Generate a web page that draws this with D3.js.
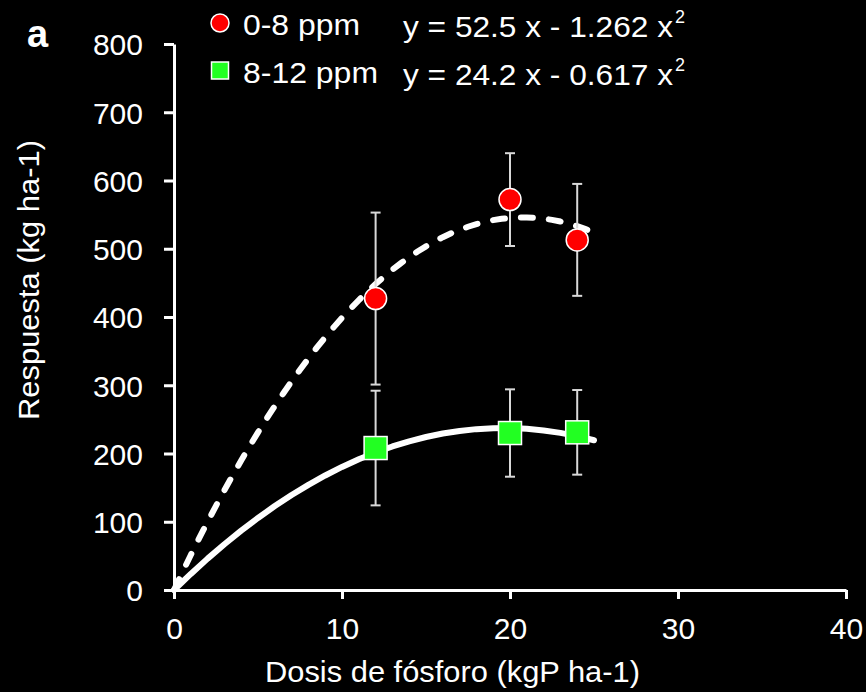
<!DOCTYPE html>
<html>
<head>
<meta charset="utf-8">
<script src="https://cdn.jsdelivr.net/npm/d3@7"></script>
<style>
  html, body { margin: 0; padding: 0; background: #000; }
  svg { display: block; }
  text { font-family: "Liberation Sans", Arial, sans-serif; fill: #fff; }
</style>
</head>
<body>
<svg id="chart" width="866" height="692"></svg>
<script>
// Phosphorus dose (kg P/ha) and yield response for two soil-P classes
const doses = [12, 20, 24];
const lowP = [427, 572, 513];        // 0-8 ppm
const lowPErr = [126, 68, 82];
const midP = [208, 230, 231];        // 8-12 ppm
const midPErr = [84, 64, 62];

// quadratic fits y = a x + b x^2 (through origin), drawn over 0..25
const lowPFit = [52.5, -1.262];
const midPFit = [24.2, -0.617];
const fitRange = [0, 25];

const xTicks = [0, 10, 20, 30, 40];
const yTicks = [0, 100, 200, 300, 400, 500, 600, 700, 800];

const svg = d3.select("#chart");
const x = d3.scaleLinear().domain([0, 40]).range([174, 846]);
const y = d3.scaleLinear().domain([0, 800]).range([590, 44]);

// axes
const yAxis = d3.axisLeft(y).tickValues(yTicks).tickSize(10).tickSizeOuter(0).tickPadding(21);
const xAxis = d3.axisBottom(x).tickValues(xTicks).tickSize(9).tickSizeOuter(0).tickPadding(19);

const gy = svg.append("g").attr("transform", `translate(${x(0)},0)`).call(yAxis);
const gx = svg.append("g").attr("transform", `translate(0,${y(0)})`).call(xAxis);
[gx, gy].forEach(g => {
  g.select(".domain").attr("stroke", "#fff").attr("stroke-width", 3);
  g.selectAll(".tick line").attr("stroke", "#fff").attr("stroke-width", 3);
  g.selectAll(".tick text")
    .attr("fill", "#fff")
    .style("font-family", '"Liberation Sans", Arial, sans-serif')
    .style("font-size", "30px");
});
gy.selectAll(".tick text").attr("dy", "0.36em");

// axis titles
svg.append("text")
  .attr("x", 265).attr("y", 682)
  .attr("textLength", 375).attr("lengthAdjust", "spacingAndGlyphs")
  .style("font-size", "29px")
  .text("Dosis de fósforo (kgP ha-1)");

svg.append("text")
  .attr("transform", "translate(39,420) rotate(-90)")
  .attr("textLength", 280).attr("lengthAdjust", "spacingAndGlyphs")
  .style("font-size", "29px")
  .text("Respuesta (kg ha-1)");

// panel letter
svg.append("text")
  .attr("x", 27).attr("y", 47)
  .style("font-size", "38px").style("font-weight", "bold")
  .text("a");

// fitted curves
const fitLine = coef => d3.line()
  .x(d => x(d))
  .y(d => y(coef[0] * d + coef[1] * d * d));
const xs = d3.range(fitRange[0], fitRange[1] + 0.001, 0.5);

svg.append("path")
  .datum(xs)
  .attr("d", fitLine(lowPFit))
  .attr("fill", "none").attr("stroke", "#fff").attr("stroke-width", 6)
  .attr("stroke-linecap", "round")
  .attr("stroke-dasharray", "12,16");

const xsCoarse = d3.range(fitRange[0], fitRange[1] + 0.001, 1);
svg.append("path")
  .datum(xsCoarse)
  .attr("d", fitLine(midPFit))
  .attr("fill", "none").attr("stroke", "#fff").attr("stroke-width", 6)
  .attr("stroke-linecap", "round").attr("stroke-linejoin", "round");

// error bars
function errorBars(vals, errs) {
  const g = svg.append("g").attr("stroke", "#d9d9d9").attr("stroke-width", 2);
  doses.forEach((d, i) => {
    const cx = x(d), top = y(vals[i] + errs[i]), bot = y(vals[i] - errs[i]);
    g.append("line").attr("x1", cx).attr("x2", cx).attr("y1", top).attr("y2", bot);
    g.append("line").attr("x1", cx - 5).attr("x2", cx + 5).attr("y1", top).attr("y2", top);
    g.append("line").attr("x1", cx - 5).attr("x2", cx + 5).attr("y1", bot).attr("y2", bot);
  });
}
errorBars(lowP, lowPErr);
errorBars(midP, midPErr);

// markers
svg.append("g").selectAll("circle")
  .data(lowP).join("circle")
  .attr("cx", (d, i) => x(doses[i])).attr("cy", d => y(d))
  .attr("r", 11).attr("fill", "#ff0000")
  .attr("stroke", "#fff").attr("stroke-width", 1.5);

const sq = 23;
svg.append("g").selectAll("rect")
  .data(midP).join("rect")
  .attr("x", (d, i) => x(doses[i]) - sq / 2).attr("y", d => y(d) - sq / 2)
  .attr("width", sq).attr("height", sq).attr("fill", "#22ff22")
  .attr("stroke", "#fff").attr("stroke-width", 1.5);

// legend
const legend = svg.append("g");
legend.append("circle").attr("cx", 220).attr("cy", 23).attr("r", 9)
  .attr("fill", "#ff0000").attr("stroke", "#fff").attr("stroke-width", 1.5);
legend.append("rect").attr("x", 211.5).attr("y", 62).attr("width", 17).attr("height", 17)
  .attr("fill", "#22ff22").attr("stroke", "#fff").attr("stroke-width", 1.5);
legend.append("text").attr("x", 243).attr("y", 35)
  .attr("textLength", 117).attr("lengthAdjust", "spacingAndGlyphs")
  .style("font-size", "29px").text("0-8 ppm");
legend.append("text").attr("x", 243).attr("y", 83)
  .attr("textLength", 135).attr("lengthAdjust", "spacingAndGlyphs")
  .style("font-size", "29px").text("8-12 ppm");

// fit equations
function equation(yPos, coef) {
  const t = svg.append("text").attr("x", 403).attr("y", yPos).style("font-size", "29px");
  const a = coef[0].toFixed(1);
  const b = Math.abs(coef[1]).toFixed(3);
  t.append("tspan")
    .attr("textLength", 270).attr("lengthAdjust", "spacingAndGlyphs")
    .text(`y = ${a} x - ${b} x`);
  t.append("tspan").attr("dy", -14).attr("dx", 2).style("font-size", "18px").text("2");
}
equation(37, lowPFit);
equation(85, midPFit);
</script>
</body>
</html>
